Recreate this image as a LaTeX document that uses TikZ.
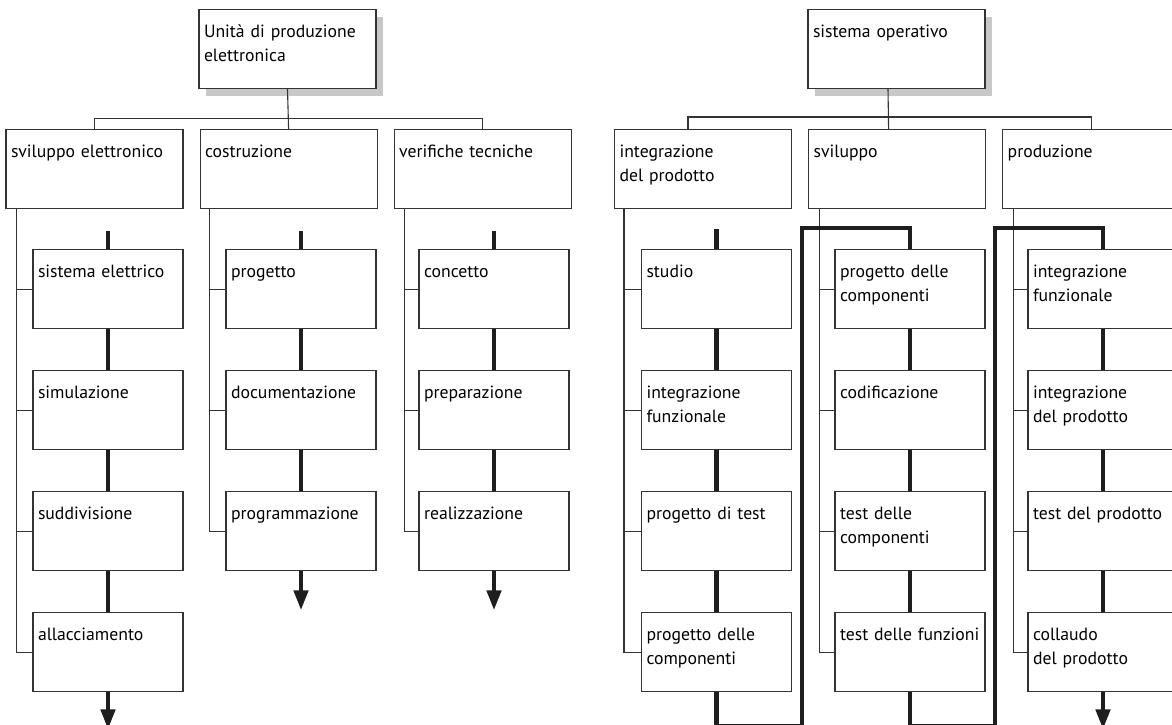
\documentclass[tikz,border=0pt]{standalone}
\usepackage{fontspec}
\setmainfont{PT Sans}
\usetikzlibrary{arrows.meta, positioning, shadows}
\definecolor{lineink}{RGB}{51, 51, 51}
\definecolor{flowink}{RGB}{30, 30, 30}
\definecolor{shadowgray}{RGB}{200, 200, 200}
\hyphenpenalty=10000

\begin{document}
\begin{tikzpicture}[
    x=1pt, y=-1pt,
    unit/.style={draw=lineink, fill=white, line width=1.1pt, font=\fontsize{17.7}{23.5}\selectfont, align=left, inner xsep=5pt, inner ysep=0pt, text height=28pt, text depth=51pt, anchor=north},
    head/.style={unit, text width=167pt},
    task/.style={unit, text width=140pt},
    rootbox/.style={head, drop shadow={shadow xshift=7pt, shadow yshift=-7pt, fill=shadowgray, opacity=1}},
    link/.style={draw=lineink, line width=1.1pt},
    flow/.style={draw=flowink, line width=4.5pt, line join=miter},
    flowend/.style={flow, -{Triangle[length=20pt, width=14pt]}}
]
\useasboundingbox (0,0) rectangle (1172,725);

% Left tree: production unit
\node (eu) [rootbox] at (287.5,9) {Unità di produzione\\elettronica};
\node (se) [head] at (94.5,129) {sviluppo elettronico};
\node (co) [head, right=16pt of se] {costruzione};
\node (vt) [head, right=16pt of co] {verifiche tecniche};

\node (se1) [task] at (108,249) {sistema elettrico};
\node (se2) [task, below=41pt of se1] {simulazione};
\node (se3) [task, below=41pt of se2] {suddivisione};
\node (se4) [task, below=41pt of se3] {allacciamento};

\node (co1) [task] at (301,249) {progetto};
\node (co2) [task, below=41pt of co1] {documentazione};
\node (co3) [task, below=41pt of co2] {programmazione};

\node (vt1) [task] at (494,249) {concetto};
\node (vt2) [task, below=41pt of vt1] {preparazione};
\node (vt3) [task, below=41pt of vt2] {realizzazione};

% Right tree: operating system
\node (so) [rootbox] at (896.5,9) {sistema operativo};
\node (ip) [head] at (703,129) {integrazione\\del prodotto};
\node (sw) [head, right=16pt of ip] {sviluppo};
\node (pr) [head, right=16pt of sw] {produzione};

\node (ip1) [task] at (716.5,249) {studio};
\node (ip2) [task, below=41pt of ip1] {integrazione\\funzionale};
\node (ip3) [task, below=41pt of ip2] {progetto di test};
\node (ip4) [task, below=41pt of ip3] {progetto delle\\componenti};

\node (sw1) [task] at (910,249) {progetto delle\\componenti};
\node (sw2) [task, below=41pt of sw1] {codificazione};
\node (sw3) [task, below=41pt of sw2] {test delle\\componenti};
\node (sw4) [task, below=41pt of sw3] {test delle funzioni};

\node (pr1) [task] at (1103,249) {integrazione\\funzionale};
\node (pr2) [task, below=41pt of pr1] {integrazione\\del prodotto};
\node (pr3) [task, below=41pt of pr2] {test del prodotto};
\node (pr4) [task, below=41pt of pr3] {collaudo\\del prodotto};

\coordinate (bendA) at (802,228);
\coordinate (bendB) at (995,228);

% Hierarchy lines
\draw [link] (eu.south) -- (co.north);
\draw [link] (eu.south) ++(0,29) -| (se.north);
\draw [link] (eu.south) ++(0,29) -| (vt.north);
\draw [link] ([xshift=-8.5pt]so.south) -- ([xshift=-8.5pt]sw.north);
\draw [link] ([xshift=-15pt]ip.north) -- ++(0,-12) -| (pr.north);

\foreach \k in {1,...,4} {
    \draw [link] ([xshift=11pt]se.south west) |- (se\k.west);
    \draw [link] ([xshift=10pt]ip.south west) |- (ip\k.west);
    \draw [link] ([xshift=11pt]sw.south west) |- (sw\k.west);
    \draw [link] ([xshift=11pt]pr.south west) |- (pr\k.west);
}
\foreach \k in {1,...,3} {
    \draw [link] ([xshift=10pt]co.south west) |- (co\k.west);
    \draw [link] ([xshift=11pt]vt.south west) |- (vt\k.west);
}

% Work flow
\draw [flow] ([yshift=18pt]se1.north) -- (se1.north);
\draw [flow] ([yshift=18pt]co1.north) -- (co1.north);
\draw [flow] ([yshift=18pt]vt1.north) -- (vt1.north);
\draw [flow] ([yshift=20pt]ip1.north) -- (ip1.north);
\foreach \a/\b in {1/2, 2/3, 3/4} {
    \draw [flow] (se\a.south) -- (se\b.north);
    \draw [flow] (ip\a.south) -- (ip\b.north);
    \draw [flow] (sw\a.south) -- (sw\b.north);
    \draw [flow] (pr\a.south) -- (pr\b.north);
}
\foreach \a/\b in {1/2, 2/3} {
    \draw [flow] (co\a.south) -- (co\b.north);
    \draw [flow] (vt\a.south) -- (vt\b.north);
}
\draw [flowend] (se4.south) -- ++(0,37);
\draw [flowend] (co3.south) -- ++(0,39);
\draw [flowend] (vt3.south) -- ++(0,39);
\draw [flow] (ip4.south) -- ++(0,34) -| (bendA) -| (sw1.north);
\draw [flow] (sw4.south) -- ++(0,34) -| (bendB) -| (pr1.north);
\draw [flowend] (pr4.south) -- ++(0,37);

\end{tikzpicture}
\end{document}
